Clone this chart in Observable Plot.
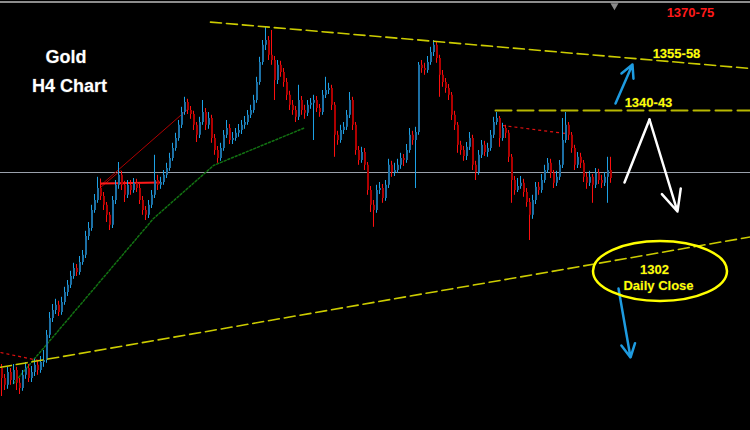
<!DOCTYPE html>
<html><head><meta charset="utf-8">
<script src="https://cdn.jsdelivr.net/npm/d3@7"></script>
<script src="https://cdn.jsdelivr.net/npm/@observablehq/plot@0.6"></script>
<style>html,body{margin:0;padding:0;background:#000;} #chart{width:750px;height:430px;overflow:hidden}</style>
</head><body><div id="chart"></div>
<script>
// Gold H4 candles (USD/oz), oldest to newest
const openP = [
1276.0,1273.5,1271.8,1275.0,1273.0,1275.5,1272.3,1271.0,1274.3,1276.0,
1273.5,1275.0,1276.8,1275.5,1277.5,1278.0,1284.3,1288.5,1290.5,1291.8,
1290.0,1292.5,1295.0,1296.8,1299.0,1301.0,1300.0,1302.5,1304.3,1309.0,
1311.0,1315.5,1318.0,1321.0,1319.0,1316.8,1314.3,1311.8,1318.0,1321.8,
1324.3,1321.8,1319.3,1321.8,1320.5,1322.3,1321.0,1318.0,1315.5,1314.3,
1316.8,1319.3,1323.0,1321.8,1322.5,1324.3,1326.0,1328.5,1331.0,1333.5,
1336.8,1340.0,1342.5,1340.5,1339.5,1336.8,1334.3,1337.5,1340.0,1336.8,
1338.5,1333.5,1330.5,1328.5,1331.0,1334.3,1336.0,1333.0,1333.5,1334.8,
1335.5,1336.8,1337.5,1339.3,1340.5,1343.0,1347.5,1352.5,1356.8,1358.0,
1354.3,1353.0,1348.0,1351.8,1350.0,1347.5,1344.3,1341.8,1340.5,1338.8,
1343.0,1340.5,1339.8,1341.8,1342.3,1343.0,1341.0,1340.0,1344.3,1345.5,
1346.0,1341.8,1334.3,1333.0,1335.5,1336.3,1339.3,1343.0,1336.8,1330.5,
1328.0,1330.0,1326.8,1320.5,1316.8,1315.5,1320.5,1321.0,1318.5,1321.8,
1326.8,1325.0,1325.5,1326.8,1328.5,1328.0,1330.5,1334.3,1333.0,1335.0,
1351.8,1351.0,1350.5,1352.5,1355.0,1356.8,1353.5,1349.3,1347.5,1346.0,
1344.3,1339.3,1336.8,1331.8,1330.5,1329.0,1331.3,1333.5,1326.8,1325.0,
1329.3,1331.8,1330.0,1331.0,1334.3,1337.5,1338.5,1333.5,1336.0,1334.8,
1328.8,1323.0,1320.5,1321.5,1322.3,1320.0,1317.5,1314.3,1318.0,1321.3,
1320.5,1323.0,1325.5,1327.3,1324.8,1322.3,1323.8,1326.8,1333.0,1336.8,
1334.3,1331.0,1326.8,1328.8,1327.3,1323.8,1322.3,1323.8,1321.8,1324.8,
1323.0,1322.3,1323.8,1325.5];
const highP = [
1277.0,1274.5,1276.3,1276.0,1277.0,1276.3,1273.5,1275.5,1277.5,1277.0,
1276.5,1278.3,1278.0,1279.0,1280.5,1285.5,1290.0,1292.0,1293.3,1292.8,
1293.8,1296.3,1298.0,1300.3,1302.3,1302.0,1304.0,1305.5,1310.3,1312.5,
1316.8,1319.5,1323.8,1322.3,1320.0,1317.5,1315.0,1319.0,1323.0,1327.5,
1325.3,1322.8,1323.0,1323.0,1323.5,1323.3,1322.0,1319.0,1316.5,1318.0,
1320.5,1329.3,1324.3,1323.8,1325.5,1327.3,1329.8,1332.3,1334.8,1338.0,
1341.3,1343.8,1343.3,1341.5,1340.3,1337.5,1338.8,1343.0,1341.0,1340.0,
1339.3,1334.5,1331.5,1332.3,1335.5,1338.0,1337.0,1335.0,1336.0,1337.0,
1338.0,1339.0,1340.5,1341.8,1344.3,1348.8,1353.8,1358.0,1361.3,1359.0,
1360.5,1354.0,1353.0,1352.8,1351.0,1348.5,1345.3,1343.0,1341.5,1346.8,
1344.0,1341.8,1343.0,1343.5,1344.3,1344.0,1342.0,1345.5,1348.8,1347.3,
1346.8,1342.5,1335.3,1336.8,1337.5,1340.5,1345.0,1343.8,1337.5,1331.5,
1331.3,1331.0,1327.5,1321.5,1318.0,1321.8,1322.5,1322.0,1323.0,1328.3,
1327.8,1327.3,1328.3,1329.8,1329.5,1332.0,1336.0,1335.3,1336.3,1352.5,
1353.0,1352.3,1354.0,1356.3,1358.0,1357.5,1354.3,1350.5,1348.5,1347.0,
1345.0,1340.3,1337.5,1332.8,1331.5,1332.5,1335.0,1334.3,1327.8,1330.5,
1333.0,1332.8,1332.3,1335.5,1338.8,1340.0,1339.0,1337.3,1336.8,1335.5,
1329.5,1324.0,1323.5,1324.0,1323.3,1321.0,1318.5,1319.3,1322.5,1322.5,
1324.5,1326.8,1328.5,1328.3,1325.5,1325.3,1328.0,1338.5,1340.0,1337.5,
1335.0,1331.8,1330.0,1329.8,1328.0,1324.8,1325.3,1324.5,1326.0,1325.8,
1324.3,1325.0,1328.8,1328.8];
const lowP = [
1269.0,1270.5,1270.8,1271.8,1272.0,1270.5,1269.5,1270.3,1273.3,1272.5,
1272.5,1274.0,1274.3,1274.8,1276.3,1277.3,1283.5,1287.5,1289.5,1289.0,
1289.3,1291.8,1294.0,1296.0,1298.3,1299.0,1299.3,1301.8,1303.5,1308.0,
1310.3,1314.8,1317.3,1318.0,1315.5,1312.5,1310.5,1311.0,1317.0,1320.8,
1320.5,1317.5,1318.5,1319.3,1319.8,1320.0,1317.0,1314.3,1313.0,1313.5,
1316.0,1318.5,1320.5,1320.8,1321.8,1323.5,1325.3,1327.8,1330.3,1332.8,
1336.0,1339.3,1339.5,1338.3,1335.5,1332.5,1333.5,1336.8,1335.5,1335.8,
1332.3,1329.3,1327.3,1327.8,1330.3,1333.5,1332.0,1332.0,1332.8,1333.8,
1334.5,1335.8,1336.8,1338.5,1339.8,1342.3,1346.8,1351.8,1355.5,1353.0,
1351.8,1343.0,1347.0,1348.8,1346.3,1343.0,1340.5,1339.3,1337.5,1338.0,
1339.3,1338.3,1339.0,1340.8,1333.0,1340.0,1338.8,1339.3,1343.5,1344.5,
1340.5,1328.8,1331.8,1332.3,1334.5,1335.5,1338.5,1335.5,1329.3,1326.8,
1327.3,1325.5,1319.3,1315.0,1311.3,1314.8,1319.5,1317.3,1317.8,1321.0,
1323.8,1324.0,1324.8,1325.8,1326.5,1327.3,1329.8,1331.8,1321.0,1334.3,
1349.8,1349.3,1349.8,1351.8,1354.0,1352.3,1343.8,1346.3,1344.8,1343.0,
1338.0,1335.5,1329.8,1329.3,1327.8,1328.0,1330.5,1325.5,1323.0,1324.3,
1328.5,1329.0,1328.8,1330.3,1333.5,1336.8,1331.3,1332.8,1333.5,1327.5,
1317.3,1319.3,1320.0,1320.8,1318.8,1316.3,1308.0,1313.3,1317.0,1319.3,
1319.8,1322.3,1324.8,1323.5,1321.0,1321.5,1323.0,1326.0,1332.3,1333.0,
1329.8,1325.5,1326.0,1326.0,1322.5,1320.8,1321.5,1317.3,1321.0,1322.0,
1321.0,1321.5,1317.3,1322.3];
const closeP = [
1273.5,1271.8,1275.0,1273.0,1275.5,1272.3,1271.0,1274.3,1276.0,1273.5,
1275.0,1276.8,1275.5,1277.5,1278.0,1284.3,1288.5,1290.5,1291.8,1290.0,
1292.5,1295.0,1296.8,1299.0,1301.0,1300.0,1302.5,1304.3,1309.0,1311.0,
1315.5,1318.0,1321.0,1319.0,1316.8,1314.3,1311.8,1318.0,1321.8,1324.3,
1321.8,1319.3,1321.8,1320.5,1322.3,1321.0,1318.0,1315.5,1314.3,1316.8,
1319.3,1323.0,1321.8,1322.5,1324.3,1326.0,1328.5,1331.0,1333.5,1336.8,
1340.0,1342.5,1340.5,1339.5,1336.8,1334.3,1337.5,1340.0,1336.8,1338.5,
1333.5,1330.5,1328.5,1331.0,1334.3,1336.0,1333.0,1333.5,1334.8,1335.5,
1336.8,1337.5,1339.3,1340.5,1343.0,1347.5,1352.5,1356.8,1358.0,1354.3,
1353.0,1348.0,1351.8,1350.0,1347.5,1344.3,1341.8,1340.5,1338.8,1343.0,
1340.5,1339.8,1341.8,1342.3,1343.0,1341.0,1340.0,1344.3,1345.5,1346.0,
1341.8,1334.3,1333.0,1335.5,1336.3,1339.3,1343.0,1336.8,1330.5,1328.0,
1330.0,1326.8,1320.5,1316.8,1315.5,1320.5,1321.0,1318.5,1321.8,1326.8,
1325.0,1325.5,1326.8,1328.5,1328.0,1330.5,1334.3,1333.0,1335.0,1351.8,
1351.0,1350.5,1352.5,1355.0,1356.8,1353.5,1349.3,1347.5,1346.0,1344.3,
1339.3,1336.8,1331.8,1330.5,1329.0,1331.3,1333.5,1326.8,1325.0,1329.3,
1331.8,1330.0,1331.0,1334.3,1337.5,1338.5,1333.5,1336.0,1334.8,1328.8,
1323.0,1320.5,1321.5,1322.3,1320.0,1317.5,1314.3,1318.0,1321.3,1320.5,
1323.0,1325.5,1327.3,1324.8,1322.3,1323.8,1326.8,1333.0,1336.8,1334.3,
1331.0,1326.8,1328.8,1327.3,1323.8,1322.3,1323.8,1321.8,1324.8,1323.0,
1322.3,1323.8,1325.5,1323.5];

// levels and texts
const titleLines = ["Gold", "H4 Chart"];
const levelLabels = ["1370-75", "1355-58", "1340-43"];
const closeLabels = ["1302", "Daily Close"];
const currentLevel = 1325.0;
const resistanceLevel = 1340.5;
const upperTrendPrices = [1362.6, 1351.0];
const lowerTrendPrices = [1276.3, 1308.9];

// chart
const bars = closeP.map((c, i) => ({i, open: openP[i], high: highP[i], low: lowP[i], close: c, up: c >= openP[i]}));
const F = "'Liberation Sans', Arial, sans-serif";
const xEnd = 249.67, xStart = -0.33;

const upperTrend = [{i: 69.67, p: upperTrendPrices[0]}, {i: xEnd, p: upperTrendPrices[1]}];
const lowerTrend = [{i: xStart, p: lowerTrendPrices[0]}, {i: xEnd, p: lowerTrendPrices[1]}];
const resistLine = [{i: 164.67, p: resistanceLevel}, {i: xEnd, p: resistanceLevel}];
const redLinks = [
  {x1: 33.0, y1: 1321.75, x2: 62.33, y2: 1341.0, w: 1, c: "#b00000"},
  {x1: 33.0, y1: 1321.25, x2: 39.67, y2: 1325.5, w: 1, c: "#c00000"},
  {x1: 33.0, y1: 1322.25, x2: 53.0, y2: 1322.5, w: 2, c: "#ff1a1a"},
  {x1: 33.0, y1: 1323.5, x2: 33.0, y2: 1319.75, w: 1, c: "#ff1a1a"}
];
const redDotted = [
  {x1: -0.33, y1: 1280.0, x2: 12.33, y2: 1278.0},
  {x1: 167.0, y1: 1336.75, x2: 188.0, y2: 1334.75}
];
const greenPath = [{i: 4.0, p: 1272.25}, {i: 50.67, p: 1313.5}, {i: 70.67, p: 1326.75}, {i: 101.33, p: 1336.25}];

const titleTexts = [{t: titleLines[0], i: 21.5, p: 1353.7}, {t: titleLines[1], i: 22.67, p: 1346.45}];
const redText = [{t: levelLabels[0], i: 229.67, p: 1364.8}];
const yellowTexts = [
  {t: levelLabels[1], i: 225.0, p: 1354.7},
  {t: levelLabels[2], i: 215.67, p: 1342.4},
  {t: closeLabels[0], i: 217.67, p: 1300.7},
  {t: closeLabels[1], i: 219.0, p: 1296.7}
];
const blueArrows = [
  {x1: 204.67, y1: 1342.25, x2: 210.33, y2: 1352.0},
  {x1: 205.67, y1: 1296.0, x2: 209.67, y2: 1278.75}
];
const whiteLeg = [{i: 207.67, p: 1322.5}, {i: 216.0, p: 1338.25}];
const whiteArrow = [{x1: 216.0, y1: 1338.25, x2: 225.33, y2: 1315.25}];
const ellipseCenter = {i: 219.67, p: 1300.25};
const markerPos = [{i: 204.33, p: 1366.7}];

const plot = Plot.plot({
  width: 750, height: 430,
  margin: 0,
  style: {background: "#000", overflow: "visible"},
  x: {domain: [xStart, xEnd], axis: null},
  y: {domain: [1260.5, 1368], axis: null},
  color: {type: "identity"},
  marks: [
    Plot.ruleY([1367.6], {stroke: "#8c8c8c", strokeWidth: 2}),
    Plot.dot(markerPos, {x: "i", y: "p", symbol: "triangle", r: 3, fill: "#8a8a8a", rotate: 180}),
    Plot.ruleY([currentLevel], {stroke: "#9aa1ab", strokeWidth: 1}),
    Plot.line(greenPath, {x: "i", y: "p", stroke: "#127212", strokeWidth: 1.5, strokeDasharray: "2,2"}),
    Plot.link(redLinks, {x1: "x1", y1: "y1", x2: "x2", y2: "y2", stroke: "c", strokeWidth: "w"}),
    Plot.link(redDotted, {x1: "x1", y1: "y1", x2: "x2", y2: "y2", stroke: "#e01010", strokeWidth: 1.2, strokeDasharray: "3,3"}),
    Plot.ruleX(bars, {x: "i", y1: "low", y2: "high", stroke: d => d.up ? "#1ea3e8" : "#ff1010", strokeWidth: 1}),
    Plot.ruleX(bars, {x: "i", y1: "open", y2: "close", dx: 0.5, stroke: d => d.up ? "#1d70a5" : "#b00000", strokeWidth: 2}),
    Plot.line(upperTrend, {x: "i", y: "p", stroke: "#cccc00", strokeWidth: 1.6, strokeDasharray: "11,5"}),
    Plot.line(lowerTrend, {x: "i", y: "p", stroke: "#cccc00", strokeWidth: 1.6, strokeDasharray: "11,5"}),
    Plot.line(resistLine, {x: "i", y: "p", stroke: "#b8b800", strokeWidth: 2, strokeDasharray: "16,6"}),
    Plot.arrow(blueArrows, {x1: "x1", y1: "y1", x2: "x2", y2: "y2", stroke: "#1e9be0", strokeWidth: 2.5, headLength: 9, headAngle: 55}),
    Plot.line(whiteLeg, {x: "i", y: "p", stroke: "#ffffff", strokeWidth: 2.5}),
    Plot.arrow(whiteArrow, {x1: "x1", y1: "y1", x2: "x2", y2: "y2", stroke: "#ffffff", strokeWidth: 2.5, headLength: 14, headAngle: 50}),
    Plot.text(titleTexts, {x: "i", y: "p", text: "t", fill: "#ffffff", stroke: "#333", strokeWidth: 1, fontSize: 18, fontWeight: "bold", fontFamily: F}),
    Plot.text(redText, {x: "i", y: "p", text: "t", fill: "#ff1a1a", fontSize: 13, fontWeight: "bold", fontFamily: F}),
    Plot.text(yellowTexts, {x: "i", y: "p", text: "t", fill: "#ffff00", stroke: "#333", strokeWidth: 0.8, fontSize: 13, fontWeight: "bold", fontFamily: F})
  ]
});

const sx = plot.scale("x"), sy = plot.scale("y");
d3.select(plot).append("ellipse")
  .attr("cx", sx.apply(ellipseCenter.i))
  .attr("cy", sy.apply(ellipseCenter.p))
  .attr("rx", 67).attr("ry", 30)
  .attr("fill", "none").attr("stroke", "#ffff00").attr("stroke-width", 2.5);

document.getElementById("chart").appendChild(plot);
</script>
</body></html>
